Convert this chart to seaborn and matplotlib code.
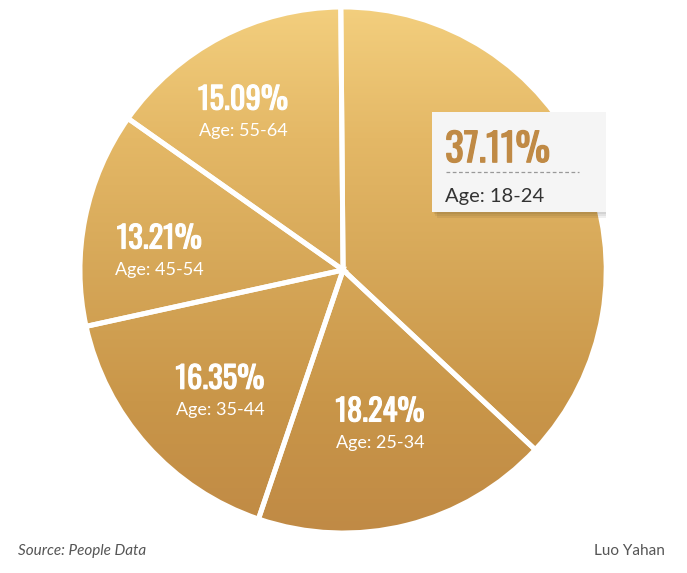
import numpy as np
import seaborn as sns
import matplotlib.pyplot as plt
import matplotlib.patheffects as pe
from matplotlib.colors import LinearSegmentedColormap
from matplotlib.patches import Rectangle

# Dados
age_groups = ["18-24", "25-34", "35-44", "45-54", "55-64"]
shares = [37.11, 18.24, 16.35, 13.21, 15.09]

# Posição dos rótulos: raio (fração) e desvio angular em relação ao meio da fatia
label_r = [0.0, 0.62, 0.67, 0.70, 0.695]
label_dang = [0.0, -1.0, 3.9, 7.0, 5.5]

sns.set_theme(style="white")
plt.rcParams["font.family"] = ["Lato", "DejaVu Sans"]
cond = ["Oswald", "Barlow Condensed", "DejaVu Sans"]

fig = plt.figure(figsize=(6.87, 5.73), dpi=100)
fig.patch.set_facecolor("white")
ax = fig.add_axes([0.1164, 0.0698, 0.766, 0.918])

wedges, _ = ax.pie(shares, startangle=90.5, counterclock=False,
                   wedgeprops=dict(edgecolor="white", linewidth=3.6))
ax.set_xlim(-1, 1)
ax.set_ylim(-1, 1)
ax.set_aspect("auto")
ax.axis("off")

# Textura dourada: gradiente vertical recortado em cada fatia
gold = LinearSegmentedColormap.from_list(
    "gold", ["#c08a45", "#c99649", "#d6a758", "#e4b866", "#f3cf7e"])
grad = np.linspace(0, 1, 256).reshape(-1, 1)
for w in wedges:
    w.set_facecolor("none")
    im = ax.imshow(grad, cmap=gold, extent=[-1, 1, -1, 1], origin="lower",
                   aspect="auto", zorder=0.5)
    im.set_clip_path(w)
    w.set_zorder(1)

# Rótulos nas fatias
for i, w in enumerate(wedges):
    if i == 0:
        continue
    ang = np.deg2rad((w.theta1 + w.theta2) / 2 + label_dang[i])
    x, y = label_r[i] * np.cos(ang), label_r[i] * np.sin(ang)
    ax.text(x, y + 0.028, f"{shares[i]:.2f}%", color="white", fontsize=22,
            fontweight="bold", family=cond, ha="center", va="baseline", zorder=3,
            path_effects=[pe.withStroke(linewidth=0.8, foreground="white")])
    ax.text(x, y - 0.024, f"Age: {age_groups[i]}", color="white", fontsize=13,
            ha="center", va="top", zorder=3)

# Caixa de destaque (tooltip) da maior fatia
bx0, by0, bx1, by1 = 0.338, 0.22, 1.008, 0.60
for k in range(3):
    off = 0.006 * (k + 1)
    ax.add_patch(Rectangle((bx0 + off, by0 - off * 1.2), bx1 - bx0, by1 - by0,
                           facecolor="black", alpha=0.06, edgecolor="none", zorder=3))
box = Rectangle((bx0, by0), bx1 - bx0, by1 - by0, facecolor="#f5f5f5",
                edgecolor="none", zorder=4)
ax.add_patch(box)
ax.plot([bx0 + 0.055, bx1 - 0.11], [0.373, 0.373], color="#999999", lw=0.9,
        ls=(0, (3, 2)), zorder=5)
ax.text(bx0 + 0.05, 0.41, f"{shares[0]:.2f}%", color="#c08a45", fontsize=28,
        fontweight="bold", family=cond, ha="left", va="baseline", zorder=5,
        path_effects=[pe.withStroke(linewidth=0.9, foreground="#c08a45")])
ax.text(bx0 + 0.05, 0.28, f"Age: {age_groups[0]}", color="#333333", fontsize=14.5,
        ha="left", va="center", zorder=5)

# Rodapé
fig.text(18 / 687, 1 - 551 / 573, "Source: People Data", fontsize=11,
         style="italic", color="#555555", ha="left", va="center")
fig.text(665 / 687, 1 - 551 / 573, "Luo Yahan", fontsize=11,
         color="#555555", ha="right", va="center")

fig.savefig("out.png", dpi=100)
